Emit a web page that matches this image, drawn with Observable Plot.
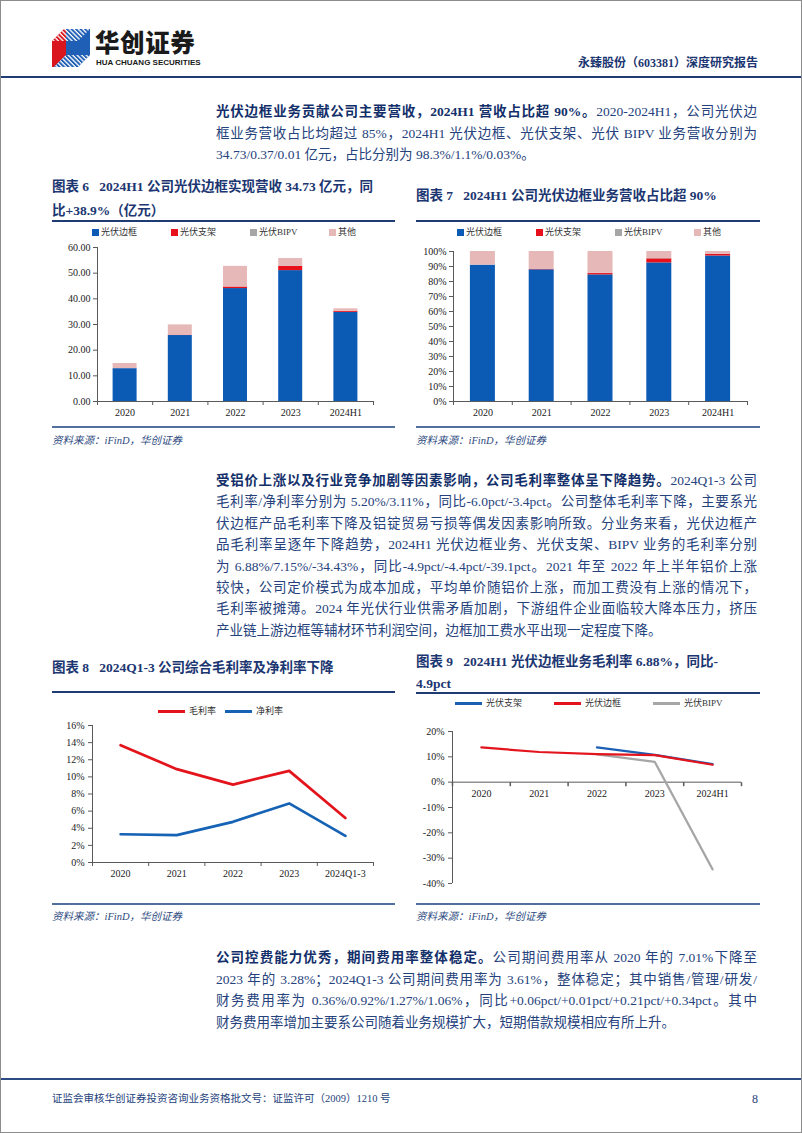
<!DOCTYPE html>
<html><head><meta charset="utf-8">
<script src="https://cdn.jsdelivr.net/npm/d3@7"></script>
<script src="https://cdn.jsdelivr.net/npm/@observablehq/plot@0.6"></script>
<style>
html,body{margin:0;padding:0;}
body{width:802px;height:1133px;position:relative;background:#fff;font-family:"Liberation Serif","Noto Sans CJK SC",serif;overflow:hidden;}
#frame{position:absolute;left:0;top:0;width:800px;height:1131px;border:1px solid #8c8c8c;}
.abs{position:absolute;}
.para{position:absolute;left:216px;width:541px;font-size:13.5px;line-height:21.5px;color:#25427c;}
.para div{white-space:nowrap;text-align:justify;text-align-last:justify;}
.para div.last{text-align-last:left;}
.para b{color:#132f6a;}
.title{position:absolute;font-weight:bold;font-size:13.5px;color:#1b3671;white-space:nowrap;}
.uline{position:absolute;height:2px;background:#1f3b73;}
.sline{position:absolute;height:2px;background:#52709e;}
.src{position:absolute;font-style:italic;font-size:10.5px;color:#2d4a80;white-space:nowrap;}
.legend{position:absolute;display:flex;font-size:9px;color:#333;line-height:12px;white-space:nowrap;}
.legend .it{display:flex;align-items:center;}
.sq{display:inline-block;width:7px;height:7px;margin-right:2px;}
.ln{display:inline-block;width:27px;height:3px;margin-right:4px;}
.chart{position:absolute;}
</style></head>
<body>
<div id="frame"></div>

<!-- header -->
<svg class="abs" style="left:52px;top:29px" width="40" height="38" viewBox="0 0 40 38">
  <defs>
    <pattern id="st" width="3.2" height="3.2" patternUnits="userSpaceOnUse" patternTransform="rotate(45)">
      <rect width="3.2" height="1.3" fill="#ffffff"/>
    </pattern>
  </defs>
  <polygon points="0,12 12,0 14,0 14,26 2,38 0,38" fill="#d9161e"/>
  <polygon points="14,0 38,0 38,26 14,26" fill="#1f5fb5"/>
  <polygon points="12,0 38,0 26,12 0,12" fill="url(#st)"/>
  <polygon points="2,38 14,26 38,26 26,38" fill="#1f5fb5"/>
  <polygon points="2,38 14,26 38,26 26,38" fill="url(#st)"/>
</svg>
<div class="abs" style="left:95px;top:28px;font-family:'Noto Sans CJK SC';font-weight:900;font-size:24.5px;line-height:28px;color:#1a1a1a;letter-spacing:0.6px;">华创证券</div>
<div class="abs" style="left:96px;top:58px;font-family:'Liberation Sans Narrow','Liberation Sans';font-weight:bold;font-size:8px;line-height:9px;color:#1a1a1a;">HUA CHUANG SECURITIES</div>
<div class="abs" style="right:44px;top:55px;font-weight:bold;font-size:12px;line-height:16px;color:#1b3671;white-space:nowrap;">永臻股份（603381）深度研究报告</div>
<div class="abs" style="left:1px;top:76px;width:800px;height:2px;background:#1f3b73;"></div>

<!-- paragraph 1 -->
<div class="para" style="top:101px;">
  <div><b>光伏边框业务贡献公司主要营收，2024H1 营收占比超 90%。</b>2020-2024H1，公司光伏边</div>
  <div>框业务营收占比均超过 85%，2024H1 光伏边框、光伏支架、光伏 BIPV 业务营收分别为</div>
  <div class="last">34.73/0.37/0.01 亿元，占比分别为 98.3%/1.1%/0.03%。</div>
</div>

<!-- chart 6 / 7 titles -->
<div class="title" style="left:52px;top:175px;line-height:24px;">图表 6&nbsp;&nbsp;&nbsp;2024H1 公司光伏边框实现营收 34.73 亿元，同<br>比+38.9%（亿元）</div>
<div class="uline" style="left:52px;top:220px;width:343px;"></div>
<div class="title" style="left:416px;top:184px;line-height:24px;">图表 7&nbsp;&nbsp;&nbsp;2024H1 公司光伏边框业务营收占比超 90%</div>
<div class="uline" style="left:416px;top:220px;width:344px;"></div>

<div class="legend" id="lg6" style="left:92px;top:226px;"></div>
<div class="legend" id="lg7" style="left:457px;top:226px;"></div>
<div class="chart" id="c6" style="left:40px;top:240px;"></div>
<div class="chart" id="c7" style="left:405px;top:240px;"></div>

<div class="sline" style="left:52px;top:426px;width:343px;"></div>
<div class="sline" style="left:416px;top:426px;width:344px;"></div>
<div class="src" style="left:52px;top:432px;">资料来源：iFinD，华创证券</div>
<div class="src" style="left:416px;top:432px;">资料来源：iFinD，华创证券</div>

<!-- paragraph 2 -->
<div class="para" style="top:470px;line-height:21.4px;">
  <div><b>受铝价上涨以及行业竞争加剧等因素影响，公司毛利率整体呈下降趋势。</b>2024Q1-3 公司</div>
  <div>毛利率/净利率分别为 5.20%/3.11%，同比-6.0pct/-3.4pct。公司整体毛利率下降，主要系光</div>
  <div>伏边框产品毛利率下降及铝锭贸易亏损等偶发因素影响所致。分业务来看，光伏边框产</div>
  <div>品毛利率呈逐年下降趋势，2024H1 光伏边框业务、光伏支架、BIPV 业务的毛利率分别</div>
  <div>为 6.88%/7.15%/-34.43%，同比-4.9pct/-4.4pct/-39.1pct。2021 年至 2022 年上半年铝价上涨</div>
  <div>较快，公司定价模式为成本加成，平均单价随铝价上涨，而加工费没有上涨的情况下，</div>
  <div>毛利率被摊薄。2024 年光伏行业供需矛盾加剧，下游组件企业面临较大降本压力，挤压</div>
  <div class="last">产业链上游边框等辅材环节利润空间，边框加工费水平出现一定程度下降。</div>
</div>

<!-- chart 8 / 9 titles -->
<div class="title" style="left:52px;top:656px;line-height:24px;">图表 8&nbsp;&nbsp;&nbsp;2024Q1-3 公司综合毛利率及净利率下降</div>
<div class="uline" style="left:52px;top:691px;width:343px;"></div>
<div class="title" style="left:416px;top:651px;line-height:22px;">图表 9&nbsp;&nbsp;&nbsp;2024H1 光伏边框业务毛利率 6.88%，同比-<br>4.9pct</div>
<div class="uline" style="left:416px;top:692px;width:344px;"></div>

<div class="legend" id="lg8" style="left:158px;top:705px;"></div>
<div class="legend" id="lg9" style="left:455px;top:697px;"></div>
<div class="chart" id="c8" style="left:40px;top:718px;"></div>
<div class="chart" id="c9" style="left:405px;top:722px;"></div>

<div class="sline" style="left:52px;top:903px;width:343px;"></div>
<div class="sline" style="left:416px;top:903px;width:344px;"></div>
<div class="src" style="left:52px;top:908px;">资料来源：iFinD，华创证券</div>
<div class="src" style="left:416px;top:908px;">资料来源：iFinD，华创证券</div>

<!-- paragraph 3 -->
<div class="para" style="top:947px;line-height:21.7px;">
  <div><b>公司控费能力优秀，期间费用率整体稳定。</b>公司期间费用率从 2020 年的 7.01%下降至</div>
  <div>2023 年的 3.28%；2024Q1-3 公司期间费用率为 3.61%，整体稳定；其中销售/管理/研发/</div>
  <div>财务费用率为 0.36%/0.92%/1.27%/1.06%，同比+0.06pct/+0.01pct/+0.21pct/+0.34pct。其中</div>
  <div class="last">财务费用率增加主要系公司随着业务规模扩大，短期借款规模相应有所上升。</div>
</div>

<!-- footer -->
<div class="abs" style="left:1px;top:1078px;width:800px;height:2px;background:#2b4b82;"></div>
<div class="abs" style="left:52px;top:1092px;font-size:10.5px;line-height:14px;color:#25427c;white-space:nowrap;">证监会审核华创证券投资咨询业务资格批文号：证监许可（2009）1210 号</div>
<div class="abs" style="right:44px;top:1091px;font-size:12px;line-height:16px;color:#25427c;">8</div>

<script>
// ---------- data ----------
const years = ["2020", "2021", "2022", "2023", "2024H1"];
const revSeries = ["光伏边框", "光伏支架", "光伏BIPV", "其他"];
// 图表6 营收（亿元）
const revFrame   = [12.8, 25.7, 44.0, 51.0, 34.73];
const revBracket = [0, 0.15, 0.6, 1.7, 0.37];
const revBipv    = [0, 0, 0.05, 0.1, 0.01];
const revOther   = [2.0, 4.0, 8.0, 2.9, 1.0];
// 图表7 营收占比（%）
const shareFrame   = [90.9, 87.8, 84.4, 92.4, 97.0];
const shareBracket = [0, 0.2, 0.9, 2.7, 1.0];
const shareBipv    = [0, 0, 0.1, 0.2, 0.03];
const shareOther   = [9.1, 12.0, 14.6, 4.7, 1.97];
// 图表8 毛利率 / 净利率（%）
const marginYears = ["2020", "2021", "2022", "2023", "2024Q1-3"];
const marginSeries = ["毛利率", "净利率"];
const grossMargin = [13.7, 10.9, 9.1, 10.7, 5.20];
const netMargin   = [3.3, 3.2, 4.75, 6.9, 3.11];
// 图表9 分业务毛利率（%）
const segSeries  = ["光伏支架", "光伏边框", "光伏BIPV"];
const segBracket = [null, null, 13.7, 10.8, 7.15];
const segFrame   = [13.7, 11.9, 11.1, 10.7, 6.88];
const segBipv    = [null, null, 11.0, 8.0, -34.43];
// tick values
const revTicks = [0, 10, 20, 30, 40, 50, 60];
const shareTicks = [0, 10, 20, 30, 40, 50, 60, 70, 80, 90, 100];
const marginTicks = [0, 2, 4, 6, 8, 10, 12, 14, 16];
const segTicks = [-40, -30, -20, -10, 0, 10, 20];

// ---------- styles ----------
const barColors = ["#0b5ab4", "#e8101a", "#a6a6a6", "#e6b9b8"];
const marginColors = ["#e3141c", "#1662b4"];
const segColors = ["#1a5fb4", "#e3141c", "#a6a6a6"];
const axisColor = "#5a5a5a";
const plotStyle = {fontFamily: '"Liberation Serif", serif', fontSize: "10px", color: "#222", background: "transparent", overflow: "visible"};

function rowsOf(cats, names, arrays) {
  const rows = [];
  names.forEach((s, k) => cats.forEach((c, i) => {
    if (arrays[k][i] != null) rows.push({i, cat: c, series: s, value: arrays[k][i]});
  }));
  return rows;
}

function bottomAxes(cats) {
  return [
    Plot.axisX({ticks: d3.range(cats.length + 1), tickFormat: () => "", tickSize: 4, stroke: axisColor}),
    Plot.axisX({ticks: cats.map((c, i) => i + 0.5), tickFormat: v => cats[Math.floor(v)], tickSize: 0, tickPadding: 7})
  ];
}

function barChart(rows, cats, o) {
  return Plot.plot({
    width: o.width, height: o.height,
    marginTop: o.mt, marginRight: o.mr, marginBottom: o.mb, marginLeft: o.ml,
    x: {domain: [0, cats.length], label: null},
    y: {domain: o.yDomain, label: null},
    color: {domain: revSeries, range: barColors},
    style: plotStyle,
    marks: [
      Plot.rectY(rows, {x: "i", interval: 1, y: "value", fill: "series", insetLeft: o.inset, insetRight: o.inset}),
      Plot.ruleY([o.yDomain[0]], {stroke: axisColor}),
      Plot.ruleX([0], {stroke: axisColor}),
      Plot.axisY({ticks: o.yTicks, tickFormat: o.yFormat, tickSize: 4, tickPadding: 3, stroke: axisColor}),
      ...bottomAxes(cats)
    ]
  });
}

// 图表6
document.getElementById("c6").append(barChart(
  rowsOf(years, revSeries, [revFrame, revBracket, revBipv, revOther]), years,
  {width: 350, height: 180, mt: 7, mr: 17, mb: 19, ml: 57, yDomain: [0, 60], yTicks: revTicks,
   yFormat: d3.format(".2f"), inset: 15.6}));

// 图表7
document.getElementById("c7").append(barChart(
  rowsOf(years, revSeries, [shareFrame, shareBracket, shareBipv, shareOther]), years,
  {width: 355, height: 180, mt: 11, mr: 13, mb: 19, ml: 48, yDomain: [0, 100], yTicks: shareTicks,
   yFormat: d => d + "%", inset: 16.9}));

// 图表8
document.getElementById("c8").append(Plot.plot({
  width: 350, height: 170, marginTop: 7, marginRight: 17, marginBottom: 26, marginLeft: 52,
  x: {domain: [0, marginYears.length], label: null},
  y: {domain: [0, 16], label: null},
  color: {domain: marginSeries, range: marginColors},
  style: plotStyle,
  marks: [
    Plot.ruleY([0], {stroke: axisColor}),
    Plot.ruleX([0], {stroke: axisColor}),
    Plot.axisY({ticks: marginTicks, tickFormat: d => d + "%", tickSize: 4, tickPadding: 4, stroke: axisColor}),
    ...bottomAxes(marginYears),
    Plot.lineY(rowsOf(marginYears, marginSeries, [grossMargin, netMargin]),
      {x: d => d.i + 0.5, y: "value", stroke: "series", strokeWidth: 2.7})
  ]
}));

// 图表9
const tickDown = {draw(ctx) { ctx.moveTo(0, 0); ctx.lineTo(0, 4); }};
document.getElementById("c9").append(Plot.plot({
  width: 355, height: 170, marginTop: 9, marginRight: 19, marginBottom: 9, marginLeft: 47,
  x: {domain: [0, years.length], label: null, axis: null},
  y: {domain: [-40, 20], label: null},
  color: {domain: segSeries, range: segColors},
  style: plotStyle,
  marks: [
    Plot.ruleY([0], {stroke: axisColor}),
    Plot.ruleX([0], {stroke: axisColor}),
    Plot.axisY({ticks: segTicks, tickFormat: d => d + "%", tickSize: 4, tickPadding: 4, stroke: axisColor}),
    Plot.dot(d3.range(years.length + 1), {x: d => d, y: () => 0, symbol: tickDown, stroke: axisColor, fill: "none", r: 2}),
    Plot.text(years.map((c, i) => ({c, i})), {x: d => d.i + 0.5, y: () => 0, text: "c", dy: 12}),
    Plot.lineY(rowsOf(years, ["光伏支架", "光伏BIPV", "光伏边框"], [segBracket, segBipv, segFrame]),
      {x: d => d.i + 0.5, y: "value", stroke: "series", strokeWidth: 2.2})
  ]
}));

// ---------- legends ----------
function squareLegend(id, names, colors, step) {
  const el = document.getElementById(id);
  names.forEach((n, k) => {
    const it = document.createElement("div");
    it.className = "it"; it.style.width = step + "px";
    it.innerHTML = `<span class="sq" style="background:${colors[k]}"></span>${n}`;
    el.append(it);
  });
}
function lineLegend(id, names, colors, step) {
  const el = document.getElementById(id);
  names.forEach((n, k) => {
    const it = document.createElement("div");
    it.className = "it"; it.style.width = step + "px";
    it.innerHTML = `<span class="ln" style="background:${colors[k]}"></span>${n}`;
    el.append(it);
  });
}
squareLegend("lg6", revSeries, barColors, 79);
squareLegend("lg7", revSeries, barColors, 79);
lineLegend("lg8", marginSeries, marginColors, 67);
lineLegend("lg9", segSeries, segColors, 99);
</script>
</body></html>
